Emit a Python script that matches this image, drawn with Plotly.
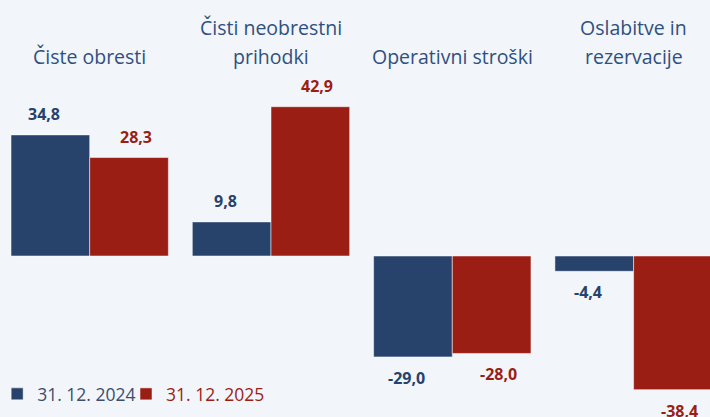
import plotly.graph_objects as go

categories = ["Čiste obresti", "Čisti neobrestni<br>prihodki", "Operativni stroški", "Oslabitve in<br>rezervacije"]
series_names = ["31. 12. 2024", "31. 12. 2025"]
values_2024 = [34.8, 9.8, -29.0, -4.4]
values_2025 = [28.3, 42.9, -28.0, -38.4]

BLUE = "#27426b"
RED = "#9b1e15"
LEG_BLUE = "#3b4e6e"
CAT_COLOR = "#2f5080"
BG = "#f2f5f9"
FONT = "Open Sans"

x = list(range(len(categories)))
fig = go.Figure()
for name, vals, col, tcol, leg in [(series_names[0], values_2024, BLUE, LEG_BLUE, "legend"),
                                   (series_names[1], values_2025, RED, RED, "legend2")]:
    fig.add_trace(go.Bar(
        x=x, y=vals, name=name, legend=leg,
        marker=dict(color=col, line=dict(color="rgba(255,255,255,0.5)", width=1)),
        hoverinfo="skip",
    ))

def fmt(v):
    return f"{v:.1f}".replace(".", ",")

annotations = []
for vals, col, xs in [(values_2024, BLUE, -6), (values_2025, RED, 7)]:
    offset = -0.217 if col == BLUE else 0.217
    for i, v in enumerate(vals):
        annotations.append(dict(
            x=i + offset, y=v, xref="x", yref="y", text=fmt(v), showarrow=False,
            xshift=xs, yshift=21 if v >= 0 else -21,
            font=dict(family=FONT, size=16, color=col, weight="bold"),
        ))

for i, cat in enumerate(categories):
    lines = cat.split("<br>")
    n = len(lines)
    for j, line in enumerate(lines):
        annotations.append(dict(
            x=i, y=1, xref="x", yref="paper", text=line, showarrow=False,
            yanchor="middle", yshift=-(56 - (n - 1 - j) * 29),
            font=dict(family=FONT, size=19.5, color=CAT_COLOR),
        ))

px_per_cat = 181.3
left_px = 89.7
W, H = 710, 417
zero_px = 256
px_per_unit = 3.48

leg_common = dict(orientation="h", y=0.012, xanchor="left", yanchor="bottom",
                  itemwidth=30, bgcolor="rgba(0,0,0,0)")

fig.update_layout(
    width=W, height=H,
    margin=dict(l=0, r=0, t=0, b=0, autoexpand=False),
    paper_bgcolor=BG, plot_bgcolor=BG,
    barmode="group", bargap=0.132, bargroupgap=0,
    xaxis=dict(range=[-left_px / px_per_cat, (W - left_px) / px_per_cat], visible=False, fixedrange=True),
    yaxis=dict(range=[-(H - zero_px) / px_per_unit, zero_px / px_per_unit], visible=False, fixedrange=True),
    showlegend=True,
    legend=dict(x=-0.004, font=dict(family=FONT, size=17.5, color=LEG_BLUE), **leg_common),
    legend2=dict(x=0.1775, font=dict(family=FONT, size=17.5, color=RED), **leg_common),
    annotations=annotations,
    font=dict(family=FONT),
)

fig.write_html("out.html", config={"displayModeBar": False},
               post_script="document.body.style.margin='0';document.body.style.overflow='hidden';")
